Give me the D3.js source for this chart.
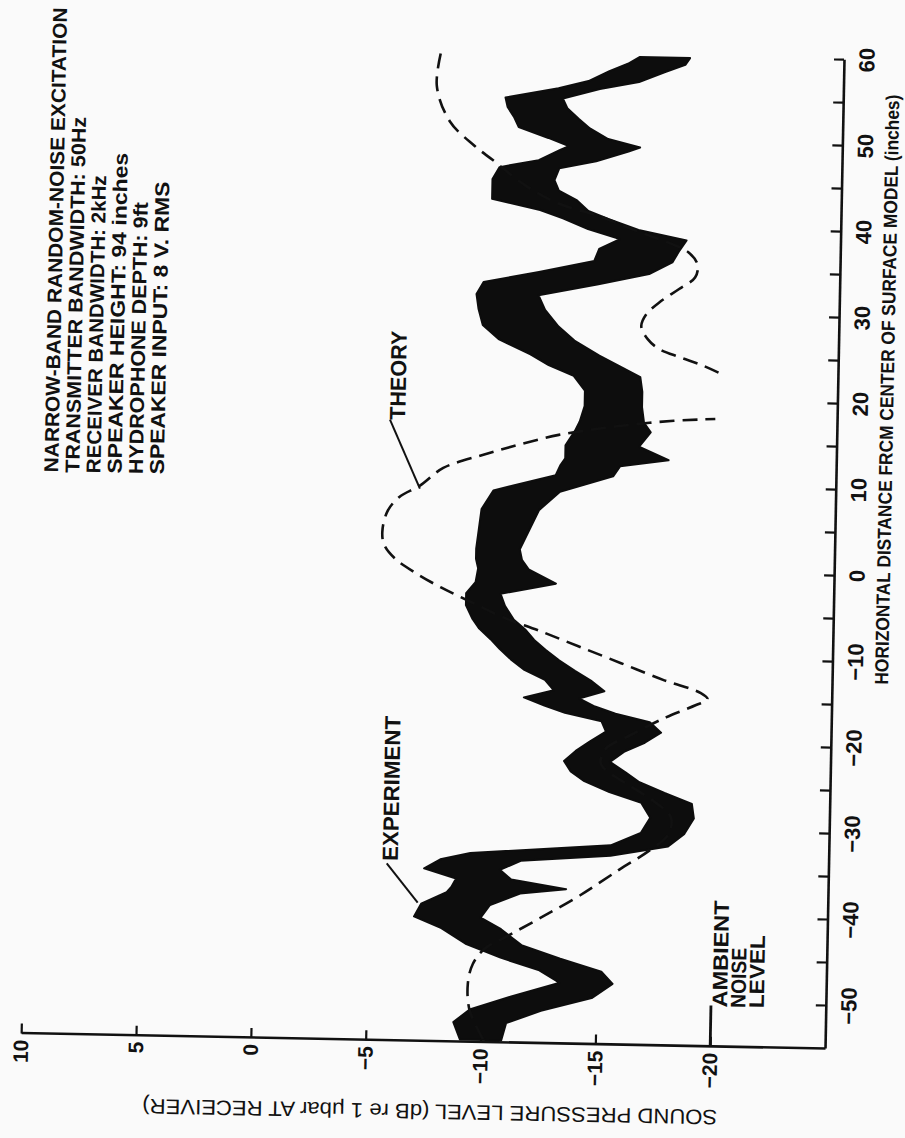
<!DOCTYPE html>
<html>
<head>
<meta charset="utf-8">
<script src="https://cdn.jsdelivr.net/npm/d3@7"></script>
<style>
  body { margin: 0; background: #fafafa; }
</style>
</head>
<body>
<div id="chart"></div>
<script>

// ---- data ----
var distanceTicks = [-50, -45, -40, -35, -30, -25, -20, -15, -10, -5, 0, 5, 10, 15, 20, 25, 30, 35, 40, 45, 50, 55, 60];
var levelTicks = [10, 5, 0, -5, -10, -15, -20];

// experiment: noisy recording, kept as upper / lower envelope of the trace
var expDistance = [-54.7, -52.7, -51.2, -49.6, -47.9, -46.5, -45.1, -43.6, -41.8, -40.5, -39.0, -37.6, -37.0, -36.0, -34.9, -33.8, -33.0, -31.8, -30.3, -28.5,
    -26.8, -25.6, -24.4, -23.3, -22.1, -20.9, -19.8, -18.6, -17.4, -16.5, -15.7, -14.8, -13.9, -12.7, -11.6, -10.4, -9.2, -8.1, -6.9, -5.8,
    -4.2, -2.8, -1.5, 0.1, 1.2, 2.4, 4.7, 7.0, 9.2, 11.1, 12.3, 13.1, 14.6, 16.3, 17.4, 19.2, 21.0, 22.7, 23.9, 25.1,
    26.8, 28.4, 30.3, 32.0, 33.4, 34.7, 36.1, 37.5, 38.7, 39.8, 41.0, 41.9, 43.1, 44.2, 45.4, 46.8, 47.7, 48.9, 49.4, 50.3,
    51.5, 52.6, 53.8, 54.9, 56.1, 57.0, 58.2, 59.1, 59.9];
var expUpper = [-9.1, -8.8, -9.5, -11.3, -13.4, -12.5, -10.8, -9.3, -8.2, -7.0, -7.3, -8.4, -8.6, -8.8, -7.4, -8.1, -9.4, -15.5, -16.8, -17.2,
    -16.8, -15.4, -14.3, -13.7, -13.4, -13.9, -14.5, -15.2, -15.0, -13.4, -12.5, -11.6, -12.9, -12.5, -11.6, -11.0, -10.5, -10.1, -9.6, -9.3,
    -9.0, -9.0, -9.4, -9.5, -9.4, -9.4, -9.5, -9.6, -10.1, -12.8, -13.0, -13.2, -13.2, -13.6, -13.8, -14.0, -14.0, -13.5, -12.4, -11.6,
    -10.2, -9.5, -9.3, -9.2, -9.5, -11.9, -14.3, -14.5, -15.4, -14.0, -12.9, -11.9, -9.8, -9.8, -9.8, -10.1, -11.8, -12.7, -13.1, -12.2,
    -10.9, -10.7, -10.4, -10.3, -12.6, -13.9, -14.8, -15.6, -16.1];
var expLower = [-10.9, -11.1, -12.6, -14.8, -15.7, -15.2, -13.4, -11.7, -10.8, -9.9, -10.3, -11.6, -13.6, -11.2, -10.7, -11.6, -15.5, -18.0, -18.7, -19.1,
    -19.0, -17.8, -16.7, -16.1, -15.4, -16.0, -16.9, -17.6, -17.1, -15.6, -14.7, -14.0, -15.1, -14.5, -13.8, -13.1, -12.5, -12.0, -11.6, -11.1,
    -10.7, -10.5, -12.9, -11.7, -11.4, -11.3, -11.7, -12.1, -13.0, -15.3, -15.6, -17.7, -16.4, -16.9, -16.6, -16.5, -16.5, -16.4, -15.5, -14.6,
    -13.5, -12.8, -12.2, -11.9, -14.5, -16.7, -17.7, -18.0, -18.3, -16.2, -14.9, -14.0, -13.5, -12.7, -12.5, -12.7, -14.3, -15.7, -16.2, -14.8,
    -14.0, -13.5, -13.0, -12.8, -14.4, -16.1, -17.2, -18.1, -18.3];

// theory: two branches, broken at the null near 20 inches
var theoryDistanceA = [-54.6, -51.3, -48.2, -45.9, -44.1, -42.7, -40.4, -37.7, -34.6, -32.3, -30.4, -28.4, -26.7, -24.7, -23.2, -22.3, -20.6, -18.9, -16.8, -15.3,
    -14.6, -13.9, -12.5, -10.6, -8.7, -7.0, -5.5, -3.8, -2.2, -0.6, 1.0, 2.6, 4.1, 6.5, 8.2, 9.6, 11.7, 13.3, 14.6, 15.8,
    16.6, 17.2, 17.7, 17.9, 18.0];
var theoryLevelA = [-10.1, -9.5, -9.4, -9.6, -10.1, -11.0, -12.5, -14.2, -15.9, -17.2, -18.0, -18.1, -17.4, -16.2, -15.3, -15.0, -15.2, -16.3, -17.8, -19.1,
    -19.6, -19.3, -17.7, -15.8, -13.9, -12.2, -10.6, -9.2, -7.9, -6.8, -5.9, -5.4, -5.3, -5.5, -6.0, -6.9, -7.9, -9.6, -11.2, -12.9,
    -14.6, -16.2, -17.9, -19.0, -19.7];
var theoryDistanceB = [23.4, 24.3, 25.1, 26.0, 27.1, 28.6, 30.0, 31.5, 33.0, 34.4, 35.9, 37.3, 38.2, 39.6, 41.3, 42.7, 44.8, 47.6, 49.2, 52.0, 56.1, 60.6];
var theoryLevelB = [-19.8, -19.0, -18.1, -17.2, -16.7, -16.4, -16.6, -17.2, -18.0, -18.7, -18.8, -18.4, -17.7, -16.2, -14.5, -12.7, -11.2, -9.8, -9.0, -7.9, -7.3, -7.5];

var infoLines = ['NARROW-BAND RANDOM-NOISE EXCITATION', 'TRANSMITTER BANDWIDTH: 50Hz', 'RECEIVER BANDWIDTH: 2kHz',
    'SPEAKER HEIGHT: 94 inches', 'HYDROPHONE DEPTH: 9ft', 'SPEAKER INPUT: 8 V. RMS'];
var infoLengths = [465, 356, 298, 321, 272, 293];

// ---- layout ----
var svgWidth = 905;
var svgHeight = 1138;
var plotW = 989;     // distance axis length
var plotH = 804;     // level axis length
var corner = {x: 825, y: 1049};
var skew = 1.1;      // the scan is slightly turned
var font = '"Liberation Sans", Arial, sans-serif';

var svg = d3.select('#chart')
    .append('svg')
    .attr('width', svgWidth)
    .attr('height', svgHeight)
    .style('background', '#fafafa');

// the figure is printed turned on its side: build it landscape, then rotate
var chartGroup = svg.append('g')
    .attr('transform', `translate(${corner.x}, ${corner.y}) rotate(${-90 + skew}) translate(0, ${-plotH})`);

var xScale = d3.scaleLinear().domain([-55, 60]).range([0, plotW]);
var yScale = d3.scaleLinear().domain([-25, 10]).range([plotH, 0]);

var fmt = d3.format('d');

// distance axis
var bottomAxis = d3.axisBottom(xScale)
    .tickValues(distanceTicks)
    .tickSizeInner(-10)
    .tickSizeOuter(0)
    .tickPadding(15)
    .tickFormat(d => d % 10 === 0 ? fmt(d) : '');

var xAxis = chartGroup.append('g')
    .attr('transform', `translate(0, ${plotH})`)
    .call(bottomAxis);

// level axis
var leftAxis = d3.axisLeft(yScale)
    .tickValues(levelTicks)
    .tickSizeInner(-10)
    .tickSizeOuter(0)
    .tickPadding(6)
    .tickFormat(fmt);

var yAxis = chartGroup.append('g')
    .call(leftAxis);

[xAxis, yAxis].forEach(function (ax) {
    ax.select('.domain').attr('stroke', '#111').attr('stroke-width', 2.6);
    ax.selectAll('.tick line').attr('stroke', '#111').attr('stroke-width', 2.2);
    ax.selectAll('.tick text')
        .attr('fill', '#111')
        .attr('font-family', font)
        .attr('font-weight', 'bold');
});
xAxis.selectAll('.tick text').attr('font-size', 22);
yAxis.selectAll('.tick text').attr('font-size', 21);

// experiment trace
var expData = expDistance.map((d, i) => ({dist: d, hi: expUpper[i], lo: expLower[i]}));
var expArea = d3.area()
    .x(d => xScale(d.dist))
    .y0(d => yScale(d.lo))
    .y1(d => yScale(d.hi));

chartGroup.append('path')
    .datum(expData)
    .attr('d', expArea)
    .attr('fill', '#0d0d0d')
    .attr('stroke', '#0d0d0d')
    .attr('stroke-width', 2)
    .attr('stroke-linejoin', 'round');

// theory
var theoryLine = d3.line()
    .x(d => xScale(d.dist))
    .y(d => yScale(d.level))
    .curve(d3.curveCatmullRom);

[[theoryDistanceA, theoryLevelA], [theoryDistanceB, theoryLevelB]].forEach(function (branch) {
    var pts = branch[0].map((d, i) => ({dist: d, level: branch[1][i]}));
    chartGroup.append('path')
        .datum(pts)
        .attr('d', theoryLine)
        .attr('fill', 'none')
        .attr('stroke', '#111')
        .attr('stroke-width', 2.6)
        .attr('stroke-dasharray', '15,8');
});

// ambient noise level marker
chartGroup.append('line')
    .attr('x1', xScale(-55))
    .attr('x2', xScale(-50.2))
    .attr('y1', yScale(-20))
    .attr('y2', yScale(-20))
    .attr('stroke', '#111')
    .attr('stroke-width', 2.8);

function addText(txt, x, y, size, len, weight) {
    return chartGroup.append('text')
        .attr('x', x)
        .attr('y', y)
        .attr('font-family', font)
        .attr('font-size', size)
        .attr('font-weight', weight || 'bold')
        .attr('fill', '#111')
        .attr('textLength', len)
        .attr('lengthAdjust', 'spacingAndGlyphs')
        .text(txt);
}

['AMBIENT', 'NOISE', 'LEVEL'].forEach(function (t, i) {
    addText(t, xScale(-50.4), yScale(-20.7 - 0.8 * i), 21, [107, 60, 73][i]);
});

// pointers
function pointer(d1, l1, d2, l2) {
    chartGroup.append('line')
        .attr('x1', xScale(d1)).attr('y1', yScale(l1))
        .attr('x2', xScale(d2)).attr('y2', yScale(l2))
        .attr('stroke', '#111')
        .attr('stroke-width', 2);
}

addText('EXPERIMENT', xScale(-34.1), yScale(-6.25), 22, 145);
pointer(-34.4, -5.77, -38.9, -7.15);

addText('THEORY', xScale(17.2), yScale(-6.2), 22, 89);
pointer(17.2, -5.54, 9.25, -6.9);

// test conditions block
infoLines.forEach(function (t, i) {
    addText(t, xScale(10.3), yScale(8.86 - 0.92 * i), 20, infoLengths[i]);
});

// axis titles
addText('HORIZONTAL DISTANCE FRCM CENTER OF SURFACE MODEL (inches)', xScale(-12.5), plotH + 56, 19, 590);

chartGroup.append('text')
    .attr('transform', `translate(-63, ${yScale(-7.85)}) rotate(-90)`)
    .attr('text-anchor', 'middle')
    .attr('font-family', font)
    .attr('font-size', 21)
    .attr('fill', '#111')
    .attr('textLength', 575)
    .attr('lengthAdjust', 'spacingAndGlyphs')
    .text('SOUND PRESSURE LEVEL (dB re 1 \u03bcbar AT RECEIVER)');

</script>
</body>
</html>
